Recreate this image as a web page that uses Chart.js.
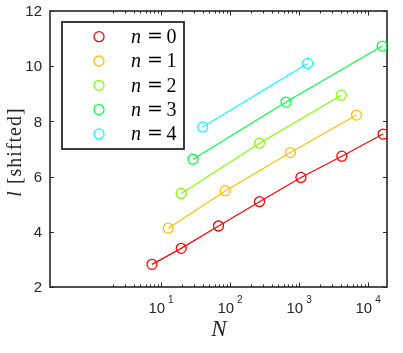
<!DOCTYPE html>
<html>
<head>
<meta charset="utf-8">
<script src="https://cdn.jsdelivr.net/npm/chart.js@4/dist/chart.umd.min.js"></script>
<style>
html,body{margin:0;padding:0;background:#fff;}
#wrap{width:403px;height:353px;position:relative;}
</style>
</head>
<body>
<div id="wrap"><canvas id="c" width="403" height="353"></canvas></div>
<script>
// ---- data ----
const seriesNames = ["n = 0", "n = 1", "n = 2", "n = 3", "n = 4"];
const nValues = ["0", "1", "2", "3", "4"];
const colors = ["#ff0000", "#ffbf00", "#80ff00", "#00ff40", "#00ffff"];

const n0_N = [7.4, 19.6, 68, 267, 1064, 4170, 16500];
const n0_l = [2.82, 3.40, 4.21, 5.09, 5.97, 6.74, 7.54];
const n1_N = [12.7, 85, 748, 6790];
const n1_l = [4.13, 5.48, 6.87, 8.23];
const n2_N = [19.6, 267, 4090];
const n2_l = [5.39, 7.21, 8.95];
const n3_N = [29, 647, 16000];
const n3_l = [6.63, 8.70, 10.73];
const n4_N = [40, 1330];
const n4_l = [7.80, 10.10];

const xMajorTicks = [10, 100, 1000, 10000];
const xTickExponents = ["1", "2", "3", "4"];
const yTicks = [2, 4, 6, 8, 10, 12];
const xMin = 0.246, xMax = 18800, yMin = 2, yMax = 12;

const allN = [n0_N, n1_N, n2_N, n3_N, n4_N];
const allL = [n0_l, n1_l, n2_l, n3_l, n4_l];

const datasets = allN.map((xs, i) => ({
  label: seriesNames[i],
  data: xs.map((x, j) => ({x: x, y: allL[i][j]})),
  showLine: true,
  borderColor: colors[i],
  backgroundColor: 'rgba(0,0,0,0)',
  borderWidth: 1.2,
  pointRadius: 5,
  pointHoverRadius: 5,
  pointBorderWidth: 1.3,
  pointBorderColor: colors[i],
  pointBackgroundColor: 'rgba(0,0,0,0)',
  tension: 0
}));

const AX = '#262626';

const axesPlugin = {
  id: 'matlabAxes',
  beforeDatasetsDraw(chart) {
    const ctx = chart.ctx;
    const xs = chart.scales.x, ys = chart.scales.y;
    const L = xs.getPixelForValue(xMin), R = xs.getPixelForValue(xMax);
    const T = ys.getPixelForValue(yMax), B = ys.getPixelForValue(yMin);
    ctx.save();
    ctx.strokeStyle = AX;
    ctx.lineWidth = 1;
    ctx.beginPath();
    // y ticks left & right
    yTicks.forEach(v => {
      const p = Math.round(ys.getPixelForValue(v)) + 0.5;
      ctx.moveTo(L, p); ctx.lineTo(L + 4, p);
      ctx.moveTo(R, p); ctx.lineTo(R - 4, p);
    });
    // x ticks top & bottom (major + minor)
    for (let d = 1; d <= 10000; d *= 10) {
      for (let k = 1; k <= 9; k++) {
        const v = d * k;
        if (v < 2 || v > xMax) continue;
        const major = (k === 1);
        const len = major ? 4.5 : 2.5;
        const p = Math.round(xs.getPixelForValue(v)) + 0.5;
        ctx.moveTo(p, B); ctx.lineTo(p, B - len);
        ctx.moveTo(p, T); ctx.lineTo(p, T + len);
      }
    }
    ctx.stroke();
    // box
    ctx.lineWidth = 1.6;
    ctx.strokeRect(L, T, R - L, B - T);

    // y tick labels
    ctx.fillStyle = AX;
    ctx.font = '15px "Liberation Sans", Arial, sans-serif';
    ctx.textAlign = 'right';
    ctx.textBaseline = 'middle';
    yTicks.forEach(v => {
      ctx.fillText(String(v), 42, ys.getPixelForValue(v) + 1);
    });
    // x tick labels with superscripts
    ctx.textBaseline = 'alphabetic';
    ctx.textAlign = 'left';
    xMajorTicks.forEach((v, i) => {
      const p = xs.getPixelForValue(v);
      ctx.font = '15px "Liberation Sans", Arial, sans-serif';
      const w1 = ctx.measureText('10').width;
      ctx.font = '10px "Liberation Sans", Arial, sans-serif';
      const w2 = ctx.measureText(xTickExponents[i]).width;
      const gap = 3;
      const start = p - (w1 + gap + w2) / 2;
      ctx.font = '15px "Liberation Sans", Arial, sans-serif';
      ctx.fillText('10', start, 313);
      ctx.font = '10px "Liberation Sans", Arial, sans-serif';
      ctx.fillText(xTickExponents[i], start + w1 + gap, 303);
    });
    // x title
    ctx.font = 'italic 23px "Liberation Serif", "Times New Roman", serif';
    ctx.textAlign = 'center';
    ctx.fillText('N', 219, 336);
    // y title (rotated)
    ctx.save();
    ctx.translate(21, 152);
    ctx.rotate(-Math.PI / 2);
    ctx.letterSpacing = '1px';
    ctx.font = 'italic 20px "Liberation Serif", "Times New Roman", serif';
    const wl = ctx.measureText('l').width;
    ctx.font = '20px "Liberation Serif", "Times New Roman", serif';
    const wr = ctx.measureText(' [shifted]').width;
    const s = -(wl + wr) / 2;
    ctx.textAlign = 'left';
    ctx.font = 'italic 20px "Liberation Serif", "Times New Roman", serif';
    ctx.fillText('l', s, 0);
    ctx.font = '20px "Liberation Serif", "Times New Roman", serif';
    ctx.fillText(' [shifted]', s + wl, 0);
    ctx.restore();
    ctx.restore();
  },
  afterDatasetsDraw(chart) {
    const ctx = chart.ctx;
    ctx.save();
    // legend box
    ctx.fillStyle = '#fff';
    ctx.fillRect(62, 22, 122, 127);
    ctx.strokeStyle = AX;
    ctx.lineWidth = 1.8;
    ctx.strokeRect(62, 22, 122, 127);
    seriesNames.forEach((name, i) => {
      const cy = 36.7 + i * 24.3;
      ctx.beginPath();
      ctx.strokeStyle = colors[i];
      ctx.lineWidth = 1.3;
      ctx.arc(99, cy, 5, 0, Math.PI * 2);
      ctx.stroke();
      const by = cy + 6.3;
      ctx.fillStyle = '#000';
      ctx.textAlign = 'left';
      ctx.textBaseline = 'alphabetic';
      ctx.font = 'italic 20px "Liberation Serif", "Times New Roman", serif';
      ctx.fillText('n', 131, by);
      ctx.font = '19px "DejaVu Serif", serif';
      ctx.fillText('=', 147, by - 1);
      ctx.font = '20px "Liberation Serif", "Times New Roman", serif';
      ctx.fillText(nValues[i], 166.5, by);
    });
    ctx.restore();
  }
};

new Chart(document.getElementById('c'), {
  type: 'scatter',
  data: { datasets: datasets },
  options: {
    responsive: false,
    animation: false,
    events: [],
    layout: { padding: { left: 50, right: 16, top: 11, bottom: 66 } },
    plugins: { legend: { display: false }, tooltip: { enabled: false } },
    scales: {
      x: { type: 'logarithmic', min: xMin, max: xMax, display: false },
      y: { type: 'linear', min: yMin, max: yMax, display: false }
    }
  },
  plugins: [axesPlugin]
});
</script>
</body>
</html>
